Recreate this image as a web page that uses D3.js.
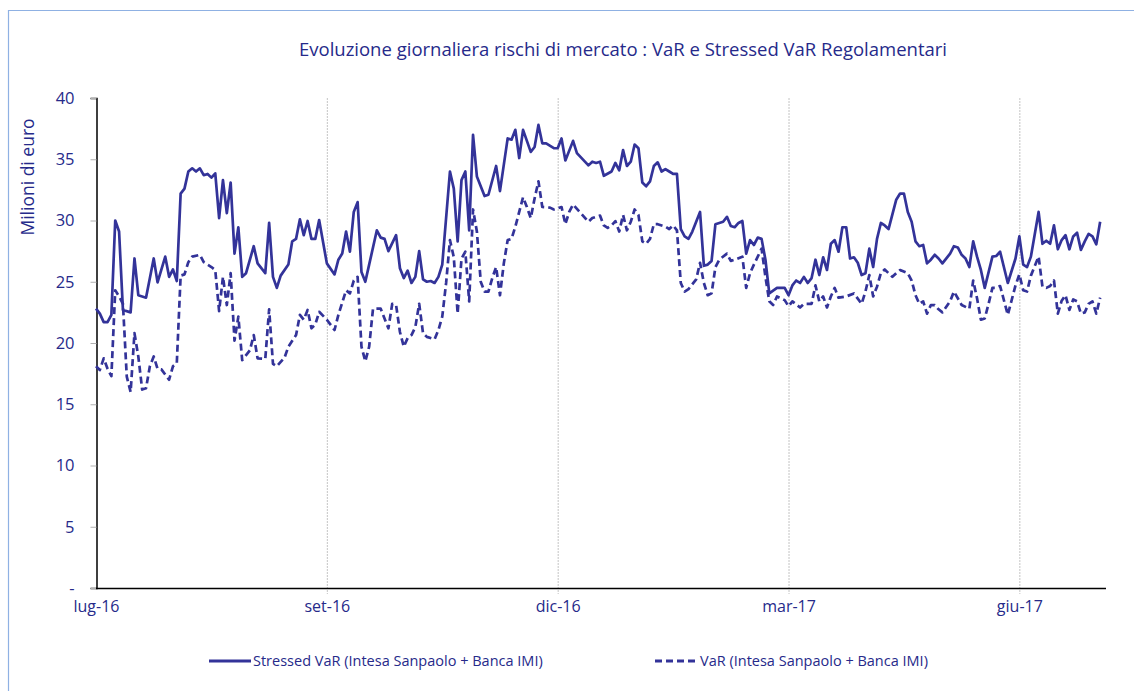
<!DOCTYPE html>
<html>
<head>
<meta charset="utf-8">
<script src="https://cdn.jsdelivr.net/npm/d3@7"></script>
<style>
  body { margin: 0; background: #fff; }
  svg { display: block; }
  text { font-family: "Open Sans", sans-serif; fill: #262a8a; }
</style>
</head>
<body>
<svg width="1134" height="691"></svg>
<script>
// business-day index of each labelled month (0 = start of lug-16)
var tickDays = [0, 60, 120, 180, 240];
var tickLabels = ["lug-16", "set-16", "dic-16", "mar-17", "giu-17"];
var yTicks = [0, 5, 10, 15, 20, 25, 30, 35, 40];
var lastDay = 262;

// Stressed VaR (Intesa Sanpaolo + Banca IMI), milioni di euro: [day, value]
var stressedVaR = [
  [0,22.8],[1,22.4],[2,21.7],[3,21.7],[4,22.3],[5,30.0],[6,29.1],[7,22.7],[9,22.5],[10,26.9],
  [11,23.9],[13,23.7],[15,26.9],[16,24.95],[18,27.05],[19,25.4],[20,26.0],[21,25.06],[22,32.2],[23,32.6],
  [24,34.0],[25,34.26],[26,34.0],[27,34.26],[28,33.7],[29,33.8],[30,33.5],[31,33.85],[32,30.2],[33,33.3],
  [34,30.6],[35,33.1],[36,27.3],[37,29.45],[38,25.4],[39,25.7],[41,27.9],[42,26.5],[44,25.7],[45,29.8],
  [46,25.4],[47,24.5],[48,25.5],[50,26.4],[51,28.3],[52,28.5],[53,30.1],[54,28.8],[55,29.96],[56,28.5],
  [57,28.5],[58,30.04],[60,26.5],[62,25.6],[63,26.8],[64,27.3],[65,29.1],[66,27.45],[67,30.7],[68,31.5],
  [69,25.8],[70,25.0],[71,26.4],[73,29.2],[74,28.6],[75,28.5],[76,27.5],[78,28.8],[79,26.1],[80,25.3],
  [81,25.9],[82,24.9],[83,25.4],[84,27.5],[85,25.2],[86,25.0],[87,25.06],[88,24.9],[89,25.4],[90,26.4],
  [92,34.0],[93,32.6],[94,28.3],[95,33.3],[96,34.0],[97,29.2],[98,37.0],[99,33.6],[101,32.0],[102,32.1],
  [104,34.45],[105,32.4],[107,36.7],[108,36.6],[109,37.4],[110,35.1],[111,37.4],[113,35.6],[114,36.0],[115,37.8],
  [116,36.3],[117,36.3],[119,35.9],[120,35.9],[121,36.7],[122,34.9],[124,36.5],[125,35.5],[128,34.5],[129,34.8],
  [130,34.7],[131,34.8],[132,33.65],[134,34.0],[135,34.7],[136,34.1],[137,35.75],[138,34.45],[139,34.8],[140,36.2],
  [141,35.9],[142,33.1],[143,32.8],[144,33.2],[145,34.45],[146,34.75],[147,34.0],[148,34.2],[149,34.0],[150,33.8],
  [151,33.8],[152,29.3],[153,28.7],[154,28.5],[155,29.1],[156,29.9],[157,30.7],[158,26.3],[159,26.4],[160,26.7],
  [161,29.7],[162,29.8],[163,29.9],[164,30.3],[165,29.55],[166,29.45],[167,29.8],[168,29.96],[169,27.3],[170,28.4],
  [171,28.0],[172,28.6],[173,28.5],[174,26.8],[175,24.05],[177,24.5],[179,24.5],[180,23.9],[181,24.7],[182,25.1],
  [183,24.9],[184,25.4],[185,24.9],[186,25.3],[187,26.8],[188,25.55],[189,27.0],[190,25.96],[191,28.1],[192,28.4],
  [193,27.45],[194,29.45],[195,29.45],[196,26.9],[197,27.0],[198,26.55],[199,25.55],[200,25.7],[201,27.7],[202,26.2],
  [203,28.5],[204,29.8],[205,29.6],[206,29.3],[208,31.7],[209,32.2],[210,32.2],[211,30.7],[212,29.9],[213,28.3],
  [214,27.9],[215,28.0],[216,26.5],[217,26.8],[218,27.2],[219,26.9],[220,26.5],[222,27.3],[223,27.9],[224,27.8],
  [225,27.2],[226,26.9],[227,26.2],[228,28.3],[229,27.05],[230,25.96],[231,24.5],[233,27.05],[234,27.1],[235,27.45],
  [237,24.9],[239,26.9],[240,28.7],[241,26.4],[242,26.2],[243,27.05],[245,30.7],[246,28.1],[247,28.35],[248,28.1],
  [249,29.6],[250,27.65],[251,28.4],[252,28.8],[253,27.65],[254,28.7],[255,29.0],[256,27.6],[257,28.3],[258,28.9],
  [259,28.7],[260,28.05],[261,29.9]
];

// VaR (Intesa Sanpaolo + Banca IMI), milioni di euro: [day, value]
var regVaR = [
  [0,18.1],[1,17.8],[2,18.75],[3,17.9],[4,17.3],[5,24.3],[6,23.8],[7,23.2],[8,17.25],[9,16.0],
  [10,20.8],[11,18.9],[12,16.2],[13,16.3],[14,18.1],[15,18.9],[16,17.9],[17,17.85],[19,17.0],[20,18.1],
  [21,18.35],[22,25.5],[23,25.6],[24,26.6],[25,27.05],[27,27.2],[28,26.6],[30,26.2],[31,25.96],[32,22.6],
  [33,25.4],[34,23.1],[35,25.7],[36,20.2],[37,22.15],[38,18.6],[40,19.4],[41,20.65],[42,18.75],[44,18.7],
  [45,22.75],[46,18.3],[47,18.1],[49,18.8],[50,19.7],[52,20.65],[53,22.3],[54,21.9],[55,22.7],[56,21.2],
  [57,21.5],[58,22.55],[60,21.9],[62,21.06],[63,22.3],[65,24.3],[66,24.05],[67,25.1],[68,25.4],[69,19.7],
  [70,18.5],[71,19.7],[72,22.8],[74,22.8],[76,21.2],[77,23.2],[78,23.1],[79,20.9],[80,19.7],[81,20.4],
  [82,20.65],[83,21.3],[84,23.2],[85,20.8],[86,20.5],[88,20.3],[89,21.06],[90,22.15],[91,24.9],[92,28.4],
  [93,27.0],[94,22.4],[95,26.9],[96,27.45],[97,23.4],[98,30.9],[99,29.1],[100,25.0],[101,24.2],[102,24.2],
  [103,25.3],[104,26.2],[105,23.9],[106,26.5],[107,28.4],[108,28.5],[109,29.5],[111,31.9],[112,31.1],[113,30.2],
  [114,31.8],[115,33.2],[116,31.1],[118,31.05],[119,30.9],[121,31.1],[122,29.7],[123,30.7],[124,31.3],[126,30.6],
  [128,29.9],[129,30.2],[131,30.4],[132,29.6],[133,29.4],[134,29.6],[135,29.95],[136,29.1],[137,30.45],[138,29.2],
  [139,29.9],[140,30.9],[141,30.45],[142,28.3],[143,28.1],[144,28.5],[145,29.7],[146,29.7],[148,29.5],[149,29.3],
  [150,29.6],[151,29.2],[152,24.9],[153,24.2],[154,24.4],[156,25.2],[157,26.55],[158,24.9],[159,23.9],[160,24.05],
  [161,26.2],[162,26.8],[164,27.3],[165,26.7],[166,26.8],[168,27.05],[169,24.5],[170,25.7],[171,26.4],[173,27.7],
  [174,25.4],[175,23.4],[176,23.1],[177,23.8],[179,23.5],[180,23.0],[181,23.4],[183,22.9],[184,23.2],[186,23.2],
  [187,24.7],[188,23.4],[189,23.8],[190,22.9],[191,23.8],[192,24.5],[193,23.7],[195,23.8],[197,24.05],[199,23.2],
  [200,24.2],[201,25.55],[202,23.8],[203,24.6],[204,25.7],[205,26.0],[207,25.4],[208,25.7],[209,25.96],[211,25.7],
  [212,25.1],[213,23.9],[214,23.2],[215,23.4],[216,22.4],[217,23.1],[218,23.1],[219,22.75],[220,22.5],[222,23.4],
  [223,24.2],[224,23.65],[225,23.1],[227,22.8],[228,25.1],[229,23.65],[230,21.9],[231,22.0],[232,23.2],[233,24.5],
  [234,24.5],[235,24.65],[237,22.3],[239,24.7],[240,25.6],[241,24.3],[242,24.2],[243,25.5],[245,27.05],[246,24.6],
  [247,24.5],[248,24.65],[249,25.1],[250,22.4],[251,23.45],[252,23.9],[253,22.7],[254,23.55],[255,23.4],[256,22.4],
  [257,22.5],[258,23.2],[259,23.4],[260,22.4],[261,23.7]
];

var svg = d3.select("svg");
var lineColor = "#333399";

var x = d3.scaleLinear().domain([0, lastDay]).range([96, 1104]);
var y = d3.scaleLinear().domain([0, 40]).range([588, 98]);

// frame (top and left edges only)
svg.append("path")
    .attr("d", "M8.5,691V10.5H1134")
    .attr("fill", "none")
    .attr("stroke", "#8fb1e3")
    .attr("stroke-width", 1.2);

// title
svg.append("text")
    .attr("x", 623)
    .attr("y", 56)
    .attr("text-anchor", "middle")
    .style("font-size", "18.5px")
    .text("Evoluzione giornaliera rischi di mercato : VaR e Stressed VaR Regolamentari");

// vertical grid lines
svg.append("g")
    .selectAll("line")
    .data(tickDays.slice(1))
    .enter().append("line")
      .attr("x1", function(d) { return x(d) + 0.5; })
      .attr("x2", function(d) { return x(d) + 0.5; })
      .attr("y1", y(40))
      .attr("y2", y(0) + 6)
      .attr("stroke", "#c4c4c4")
      .attr("stroke-dasharray", "2,1");

// y axis
var yAxis = svg.append("g")
    .attr("transform", "translate(96.5,0)")
    .call(d3.axisLeft(y)
      .tickValues(yTicks)
      .tickSize(6)
      .tickPadding(16)
      .tickFormat(function(d) { return d === 0 ? "-" : d; }));
yAxis.select(".domain").attr("stroke", "#000").attr("stroke-width", 1.5);
yAxis.selectAll(".tick line").attr("stroke", "#b0b0b0");
yAxis.selectAll(".tick text")
    .style("font-size", "16.5px")
    .style("font-family", "'Open Sans', sans-serif")
    .attr("fill", "#262a8a");

// x axis
var xAxis = svg.append("g")
    .attr("transform", "translate(0,588.5)")
    .call(d3.axisBottom(x)
      .tickValues(tickDays)
      .tickSize(0)
      .tickPadding(12)
      .tickFormat(function(d, i) { return tickLabels[i]; }));
xAxis.select(".domain").attr("stroke", "#000").attr("stroke-width", 1.5)
    .attr("d", "M96,0H1106");
xAxis.selectAll(".tick text")
    .style("font-size", "16px")
    .style("font-family", "'Open Sans', sans-serif")
    .attr("fill", "#262a8a");

// y axis title
svg.append("text")
    .attr("transform", "translate(34,177) rotate(-90)")
    .attr("text-anchor", "middle")
    .style("font-size", "17.5px")
    .text("Milioni di euro");

var line = d3.line()
    .x(function(d) { return x(d[0]); })
    .y(function(d) { return y(d[1]); });

svg.append("path")
    .datum(stressedVaR)
    .attr("d", line)
    .attr("fill", "none")
    .attr("stroke", lineColor)
    .attr("stroke-width", 2.7)
    .attr("stroke-linejoin", "round");

svg.append("path")
    .datum(regVaR)
    .attr("d", line)
    .attr("fill", "none")
    .attr("stroke", lineColor)
    .attr("stroke-width", 2.7)
    .attr("stroke-dasharray", "7,4")
    .attr("stroke-linejoin", "round");

// legend
var legend = [
  {name: "Stressed VaR (Intesa Sanpaolo + Banca IMI)", x: 209, w: 42, dash: null},
  {name: "VaR (Intesa Sanpaolo + Banca IMI)", x: 655, w: 43, dash: "7,4"}
];
var lg = svg.append("g").selectAll("g")
    .data(legend)
    .enter().append("g");
lg.append("line")
    .attr("x1", function(d) { return d.x; })
    .attr("x2", function(d) { return d.x + d.w; })
    .attr("y1", 661)
    .attr("y2", 661)
    .attr("stroke", lineColor)
    .attr("stroke-width", 3)
    .attr("stroke-dasharray", function(d) { return d.dash; });
lg.append("text")
    .attr("x", function(d) { return d.x + d.w + 2; })
    .attr("y", 666)
    .style("font-size", "14.5px")
    .text(function(d) { return d.name; });
</script>
</body>
</html>
